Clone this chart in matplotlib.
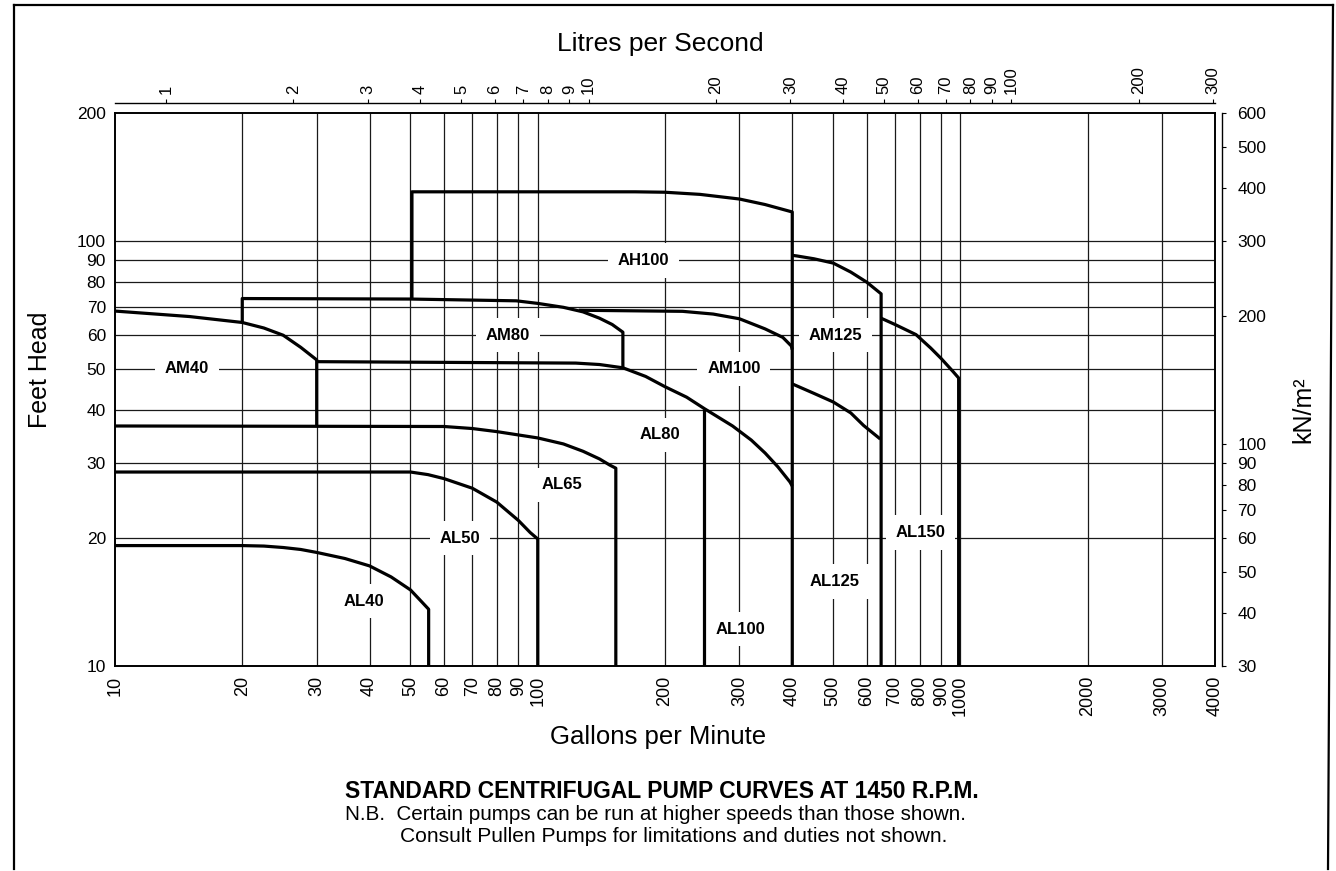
import matplotlib
matplotlib.use("Agg")
import numpy as np
import matplotlib.pyplot as plt
from matplotlib.ticker import NullLocator
from matplotlib.lines import Line2D

plt.rcParams['font.family'] = ['Liberation Sans', 'DejaVu Sans']

# ---------------- data ----------------
GPM_TICKS = [10, 20, 30, 40, 50, 60, 70, 80, 90, 100, 200, 300, 400, 500, 600,
             700, 800, 900, 1000, 2000, 3000, 4000]
FT_TICKS = [10, 20, 30, 40, 50, 60, 70, 80, 90, 100, 200]
LPS_TICKS = [1, 2, 3, 4, 5, 6, 7, 8, 9, 10, 20, 30, 40, 50, 60, 70, 80, 90, 100, 200, 300]
KN_TICKS = [30, 40, 50, 60, 70, 80, 90, 100, 200, 300, 400, 500, 600]
GRID_GPM = [20, 30, 40, 50, 60, 70, 80, 90, 100, 200, 300, 400, 500, 600, 700,
            800, 900, 1000, 2000, 3000]
GRID_FT = [20, 30, 40, 50, 60, 70, 80, 90, 100]

GPM_PER_LPS = 13.198   # imperial gallons per minute in one litre per second
KN_PER_FT = 3.0        # kN/m2 per foot of head as scaled on the chart

AL40_GPM = [10, 20, 22.5, 25, 27.5, 30, 35, 40, 45, 50, 53, 55.2, 55.2]
AL40_FT = [19.2, 19.2, 19.15, 19.0, 18.8, 18.5, 17.9, 17.2, 16.2, 15.1, 14.2, 13.6, 10]

AL50_GPM = [10, 50, 55, 60, 70, 80, 90, 96, 100, 100]
AL50_FT = [28.6, 28.6, 28.2, 27.6, 26.2, 24.3, 22.0, 20.6, 19.9, 10]

AL65_GPM = [10, 60, 70, 80, 100, 115, 128, 140, 148, 153, 153]
AL65_FT = [36.7, 36.6, 36.2, 35.6, 34.4, 33.3, 32.0, 30.7, 29.7, 29.2, 10]

AM40_GPM = [10, 15, 20, 22.5, 25, 27.5, 30, 30]
AM40_FT = [68.4, 66.4, 64.3, 62.4, 60.0, 56.2, 52.5, 36.7]

AM80_GPM = [20, 20, 50, 89, 100, 115, 128, 140, 150, 159, 159]
AM80_FT = [64.3, 73.2, 73.0, 72.3, 71.3, 69.8, 68.1, 65.8, 63.6, 61.0, 50.3]

AH100_GPM = [50.4, 50.4, 170, 200, 242, 300, 345, 400, 400]
AH100_FT = [73.0, 130.5, 130.5, 130.2, 128.7, 125.5, 121.8, 117.0, 10]

AM100_GPM = [125, 220, 260, 300, 345, 380, 398, 400]
AM100_FT = [68.7, 68.3, 67.3, 65.6, 62.1, 59.3, 56.6, 55.5]

AL80_GPM = [30, 123, 140, 159, 180, 200, 225, 248, 289, 320, 345, 370, 395, 400]
AL80_FT = [52.0, 51.6, 51.2, 50.3, 48.0, 45.4, 42.9, 40.3, 36.7, 34.0, 31.7, 29.4, 27.1, 26.5]

AL100_GPM = [248, 248]
AL100_FT = [40.3, 10]

AM125_GPM = [400, 410, 450, 500, 550, 600, 649, 649]
AM125_FT = [92.5, 92.2, 90.8, 88.7, 84.5, 80.0, 75.1, 10]

AL125_GPM = [400, 450, 500, 550, 590, 646]
AL125_FT = [46.1, 43.8, 41.8, 39.4, 36.8, 34.2]

AL150_GPM = [649, 700, 785, 850, 900, 960, 990, 990]
AL150_FT = [65.8, 63.6, 60.2, 56.0, 52.9, 49.3, 47.6, 10]

PUMP_NAMES = ['AH100', 'AM80', 'AM40', 'AM125', 'AM100', 'AL80', 'AL65',
              'AL50', 'AL40', 'AL150', 'AL125', 'AL100']
LABEL_GPM = [178, 85, 14.8, 507, 291, 195, 114, 65.5, 38.8, 804, 505, 302]
LABEL_FT = [90, 60, 50, 60, 50, 35, 26.7, 20, 14.2, 20.6, 15.8, 12.2]

# ---------------- figure ----------------
W, H = 1336, 871
fig = plt.figure(figsize=(W / 100, H / 100), dpi=100)
fig.patch.set_facecolor('white')


def fx(px):
    return px / W


def fy(py):
    return 1 - py / H


ax = fig.add_axes([fx(115), fy(666), (1215 - 115) / W, (666 - 113) / H])
ax.set_xscale('log')
ax.set_yscale('log')
ax.set_xlim(10, 4000)
ax.set_ylim(10, 200)

# grid
ax.vlines(GRID_GPM, 10, 200, colors='#1a1a1a', lw=0.9, zorder=1)
ax.hlines(GRID_FT, 10, 4000, colors='#1a1a1a', lw=0.9, zorder=1)

# pump envelopes
curves = [(AL40_GPM, AL40_FT), (AL50_GPM, AL50_FT), (AL65_GPM, AL65_FT),
          (AM40_GPM, AM40_FT), (AM80_GPM, AM80_FT), (AH100_GPM, AH100_FT),
          (AM100_GPM, AM100_FT), (AL80_GPM, AL80_FT), (AL100_GPM, AL100_FT),
          (AM125_GPM, AM125_FT), (AL125_GPM, AL125_FT), (AL150_GPM, AL150_FT)]
for gx, gy in curves:
    ax.plot(gx, gy, color='black', lw=2.3, solid_joinstyle='round',
            solid_capstyle='butt', zorder=4)

# labels
for name, lx, ly in zip(PUMP_NAMES, LABEL_GPM, LABEL_FT):
    ax.text(lx, ly, name, ha='center', va='center', fontsize=12,
            fontweight='bold', zorder=3,
            bbox=dict(facecolor='white', edgecolor='none', pad=7))

# main ticks
ax.set_xticks(GPM_TICKS)
ax.set_xticklabels([str(v) for v in GPM_TICKS], rotation=90)
ax.set_yticks(FT_TICKS)
ax.set_yticklabels([str(v) for v in FT_TICKS])
ax.xaxis.set_minor_locator(NullLocator())
ax.yaxis.set_minor_locator(NullLocator())
ax.tick_params(axis='x', length=0, pad=7, labelsize=13)
ax.tick_params(axis='y', length=0, pad=6.5, labelsize=12.5)
for s in ax.spines.values():
    s.set_linewidth(1.4)

# top: litres per second
top = ax.secondary_xaxis('top', functions=(lambda g: np.asarray(g) / GPM_PER_LPS,
                                           lambda l: np.asarray(l) * GPM_PER_LPS))
top.set_ticks(LPS_TICKS, labels=[str(v) for v in LPS_TICKS])
top.tick_params(axis='x', which='major', labelrotation=90, labelsize=12,
                length=3, width=0.8, direction='out', pad=4)
top.tick_params(axis='x', which='minor', length=0, labeltop=False, labelbottom=False)
top.spines['top'].set_position(('outward', 7))
top.spines['top'].set_linewidth(1.0)

# right: kN/m2
right = ax.secondary_yaxis('right', functions=(lambda f: np.asarray(f) * KN_PER_FT,
                                               lambda k: np.asarray(k) / KN_PER_FT))
right.set_ticks(KN_TICKS, labels=[str(v) for v in KN_TICKS])
right.tick_params(axis='y', which='major', labelsize=12.5, length=3, width=0.8,
                  direction='out', pad=8)
right.tick_params(axis='y', which='minor', length=0, labelright=False, labelleft=False)
right.spines['right'].set_position(('outward', 5))
right.spines['right'].set_linewidth(1.0)

# axis titles
fig.text(fx(660), fy(44), 'Litres per Second', ha='center', va='center', fontsize=19)
fig.text(fx(658), fy(737), 'Gallons per Minute', ha='center', va='center', fontsize=18.5)
fig.text(fx(40), fy(370), 'Feet Head', ha='center', va='center', fontsize=18, rotation=90)
fig.text(fx(1303), fy(410), 'kN/m²', ha='center', va='center', fontsize=18, rotation=90)

# caption
fig.text(fx(345), fy(791), 'STANDARD CENTRIFUGAL PUMP CURVES AT 1450 R.P.M.',
         ha='left', va='center', fontsize=16.5, fontweight='bold')
fig.text(fx(345), fy(814), 'N.B.  Certain pumps can be run at higher speeds than those shown.',
         ha='left', va='center', fontsize=14.9)
fig.text(fx(400), fy(836), 'Consult Pullen Pumps for limitations and duties not shown.',
         ha='left', va='center', fontsize=15.1)

# page border
for xs, ys in [([14, 14], [869, 5]), ([14, 1333], [5, 5]), ([1333, 1328], [5, 869])]:
    fig.add_artist(Line2D([fx(v) for v in xs], [fy(v) for v in ys],
                          transform=fig.transFigure, color='black', lw=1.6))

fig.savefig('out.png', dpi=100, facecolor='white')
